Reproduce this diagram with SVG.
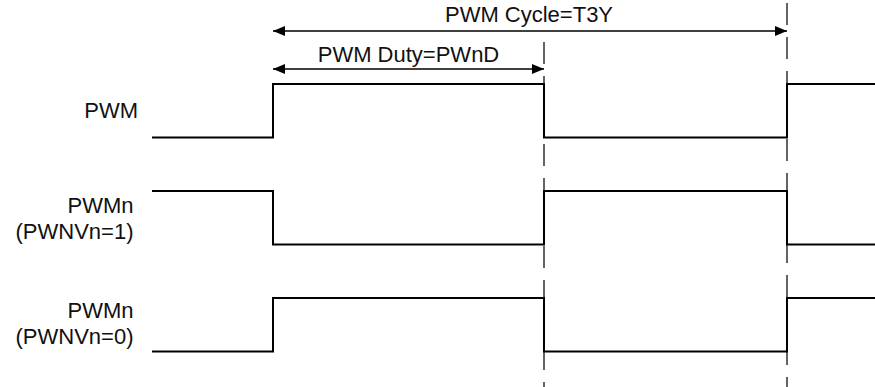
<svg xmlns="http://www.w3.org/2000/svg" width="875" height="387" viewBox="0 0 875 387">
<style>
.lbl{font-family:"Liberation Sans",Arial,sans-serif;font-size:22px;fill:#111}
.sig{fill:none;stroke:#000;stroke-width:2}
.arr{fill:none;stroke:#000;stroke-width:1.3}
.dash{fill:none;stroke:#111;stroke-width:1.3;stroke-dasharray:22 12}
</style>
<defs>
<marker id="ah" viewBox="0 0 12 10" refX="12" refY="5" markerWidth="12" markerHeight="10" markerUnits="userSpaceOnUse" orient="auto-start-reverse">
<path d="M0,0 L12,5 L0,10 Z" fill="#000"/>
</marker>
</defs>
<rect width="875" height="387" fill="#fff"/>
<g id="guides">
<line class="dash" x1="544" y1="42" x2="544" y2="387"/>
<line class="dash" x1="787" y1="3" x2="787" y2="387"/>
</g>
<g id="connectors">
<line class="arr" x1="273" y1="31" x2="787" y2="31" marker-start="url(#ah)" marker-end="url(#ah)"/>
<line class="arr" x1="273" y1="69" x2="544" y2="69" marker-start="url(#ah)" marker-end="url(#ah)"/>
</g>
<g id="cycle-label"><text class="lbl" x="529" y="22" text-anchor="middle">PWM Cycle=T3Y</text></g>
<g id="duty-label"><text class="lbl" x="408.5" y="61.5" text-anchor="middle">PWM Duty=PWnD</text></g>
<g id="pwm">
<text class="lbl" x="138" y="117.5" text-anchor="end">PWM</text>
<path class="sig" d="M152,137.5 H273 V84 H544 V137.5 H787 V84 H875"/>
</g>
<g id="pwmn1">
<text class="lbl" x="133.5" y="212.5" text-anchor="end">PWMn</text>
<text class="lbl" x="133.5" y="239" text-anchor="end">(PWNVn=1)</text>
<path class="sig" d="M152,191 H273 V244.5 H544 V191 H787 V244.5 H875"/>
</g>
<g id="pwmn0">
<text class="lbl" x="133.5" y="317.5" text-anchor="end">PWMn</text>
<text class="lbl" x="133.5" y="344" text-anchor="end">(PWNVn=0)</text>
<path class="sig" d="M152,351.5 H273 V298 H544 V351.5 H787 V298 H875"/>
</g>
</svg>
